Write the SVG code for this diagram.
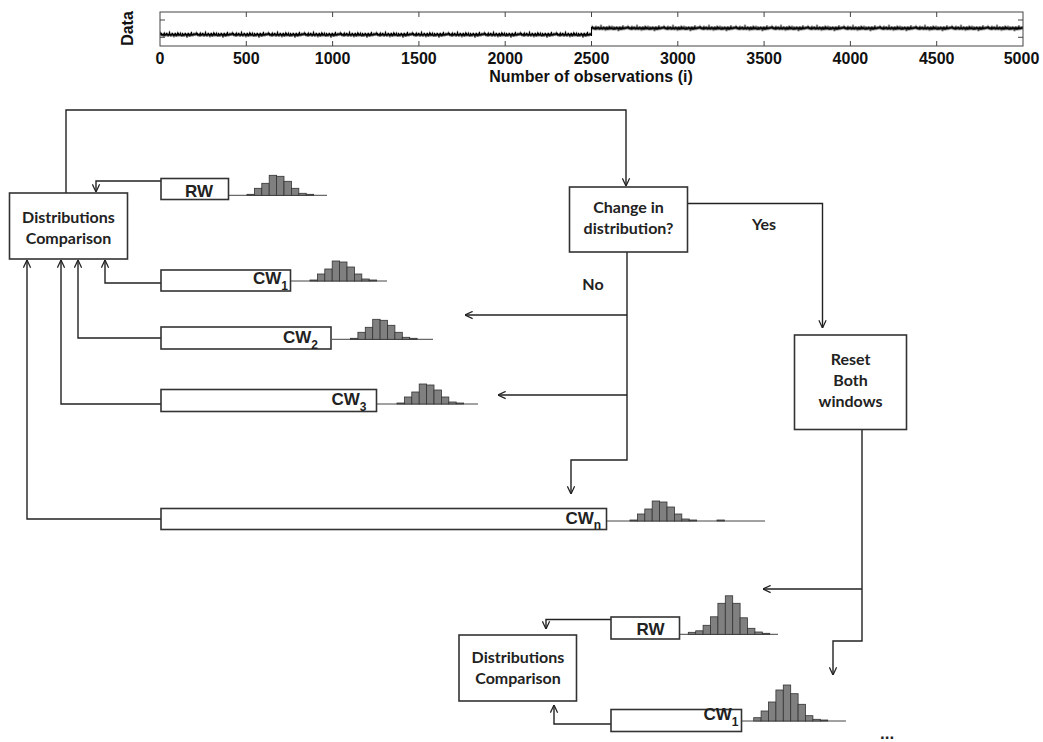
<svg xmlns="http://www.w3.org/2000/svg" xmlns:xlink="http://www.w3.org/1999/xlink" width="1043" height="742" viewBox="0 0 1043 742">
  <style>
    .box { fill: #fff; stroke: #333; stroke-width: 1.6; }
    .lbl { font-family: Lato, "Open Sans", "Liberation Sans", sans-serif; font-weight: 700; font-size: 16px; fill: #222; text-anchor: middle; }
    .win { font-family: "Liberation Sans", Arial, sans-serif; font-weight: 700; font-size: 17px; fill: #222; }
    .sub { font-size: 12px; }
    .axis { font-family: "Liberation Sans", Arial, sans-serif; font-weight: 700; font-size: 16px; fill: #111; text-anchor: middle; }
    .frame { fill: none; stroke: #444; stroke-width: 1; }
    .wire { fill: none; stroke: #222; stroke-width: 1.4; }
    .arrow { marker-end: url(#ah); }
    .bar { fill: #808080; stroke: #333; stroke-width: 0.8; }
    .base { stroke: #444; stroke-width: 1; fill: none; }
    .sig { fill: none; stroke: #000; stroke-width: 1.1; }
  </style>
  <defs>
    <marker id="ah" viewBox="0 0 10 10" refX="9.5" refY="5" markerUnits="userSpaceOnUse" markerWidth="9" markerHeight="9" orient="auto">
      <path d="M1,1 L9.5,5 L1,9" fill="none" stroke="#222" stroke-width="1.4"/>
    </marker>
    <!-- one tile of the noisy observation trace -->
    <path id="noise" class="sig" d="M0,7 L0.5,5.5 1,8 1.5,5 2,8.5 2.5,6 3,8 3.5,5.5 4,9 4.5,4.5 5,8 5.5,6 6,8.5 6.5,5 7,7.5 7.5,5.5 8,9 8.5,6 9,8 9.5,3.5 10,8 10.5,6 11,9 11.5,5.5 12,7.5 12.5,5 13,8.5 13.5,6 14,9.5 14.5,5.5 15,8 15.5,5 16,9 16.5,6 17,7.5 17.5,5.5 18,7 18.5,5 19,8.5 19.5,6 20,8 20.5,4.5 21,8.5 21.5,6.5 22,9 22.5,5 23,8 23.5,6 24,9 24.5,5.5 25,7.5 25.5,5 26,8.5 26.5,6 27,10 27.5,5.5 28,8 28.5,5 29,9 29.5,6 30,7.5 30.5,5.5 31,8.5 31.5,4 32,8 32.5,6 33,8.5 33.5,5.5 34,7.5 34.5,5.5 35,8 35.5,6 36,7"/>
    <pattern id="traceA" patternUnits="userSpaceOnUse" x="160" y="27.7" width="36" height="14">
      <use href="#noise"/>
    </pattern>
    <pattern id="traceB" patternUnits="userSpaceOnUse" x="591.5" y="21.3" width="36" height="14">
      <use href="#noise"/>
    </pattern>
    <!-- small histogram, baseline at y=0 -->
    <g id="hist-s">
      <rect class="bar" x="0" y="-1" width="7.4" height="1"/>
      <rect class="bar" x="7.4" y="-7" width="7.4" height="7"/>
      <rect class="bar" x="14.8" y="-12" width="7.4" height="12"/>
      <rect class="bar" x="22.2" y="-20" width="7.4" height="20"/>
      <rect class="bar" x="29.6" y="-19" width="7.4" height="19"/>
      <rect class="bar" x="37" y="-14" width="7.4" height="14"/>
      <rect class="bar" x="44.4" y="-7" width="7.4" height="7"/>
      <rect class="bar" x="51.8" y="-2" width="7.4" height="2"/>
      <rect class="bar" x="59.2" y="-1" width="7.4" height="1"/>
    </g>
  </defs>

  <rect width="1043" height="742" fill="#fff"/>

  <!-- observation trace plot -->
  <g id="data-plot">
    <rect x="160" y="27.7" width="431.5" height="14" fill="url(#traceA)"/>
    <rect x="591.5" y="21.3" width="431.5" height="14" fill="url(#traceB)"/>
    <path class="sig" d="M591.5,36 V27"/>
    <rect class="frame" x="160" y="12" width="863" height="34"/>
    <path class="frame" d="M246.3,12v5M332.6,12v5M418.9,12v5M505.2,12v5M591.5,12v5M677.8,12v5M764.1,12v5M850.4,12v5M936.7,12v5
      M246.3,46v-5M332.6,46v-5M418.9,46v-5M505.2,46v-5M591.5,46v-5M677.8,46v-5M764.1,46v-5M850.4,46v-5M936.7,46v-5
      M1023,20h-5M1023,37.3h-5M160,20h5M160,37.3h5"/>
    <text class="axis" transform="translate(133,28.5) rotate(-90)" font-size="15px">Data</text>
    <text class="axis" x="160" y="64">0</text>
    <text class="axis" x="246.3" y="64">500</text>
    <text class="axis" x="332.6" y="64">1000</text>
    <text class="axis" x="418.9" y="64">1500</text>
    <text class="axis" x="505.2" y="64">2000</text>
    <text class="axis" x="591.5" y="64">2500</text>
    <text class="axis" x="677.8" y="64">3000</text>
    <text class="axis" x="764.1" y="64">3500</text>
    <text class="axis" x="850.4" y="64">4000</text>
    <text class="axis" x="936.7" y="64">4500</text>
    <text class="axis" x="1021.5" y="64">5000</text>
    <text class="axis" x="591" y="82">Number of observations (i)</text>
  </g>

  <!-- connectors -->
  <g id="connectors">
    <path class="wire arrow" d="M66,193 V110 H626 V186"/>
    <path class="wire arrow" d="M161,181 H96 V192"/>
    <path class="wire arrow" d="M161,283 H105 V260"/>
    <path class="wire arrow" d="M161,338 H78 V260"/>
    <path class="wire arrow" d="M161,404 H61 V260"/>
    <path class="wire arrow" d="M161,519 H27 V260"/>
    <path class="wire arrow" d="M627,252 V460 H571 V494"/>
    <path class="wire arrow" d="M627,315 H465"/>
    <path class="wire arrow" d="M627,395 H498"/>
    <path class="wire arrow" d="M688,203.5 H822.5 V328"/>
    <path class="wire arrow" d="M862,430 V641 H833 V675"/>
    <path class="wire arrow" d="M862,589 H763"/>
    <path class="wire arrow" d="M611,619.5 H546 V629"/>
    <path class="wire arrow" d="M611,724 H554 V705"/>
  </g>

  <!-- decision labels -->
  <g id="branch-labels">
    <text class="lbl" x="764" y="230">Yes</text>
    <text class="lbl" x="593" y="290">No</text>
  </g>

  <g id="dc-top">
    <rect class="box" x="9.5" y="193" width="118" height="66"/>
    <text class="lbl" x="68.5" y="223">Distributions</text>
    <text class="lbl" x="68.5" y="244">Comparison</text>
  </g>

  <g id="rw-top">
    <rect class="box" x="161" y="178.5" width="67.5" height="21"/>
    <text class="win" x="185" y="197">RW</text>
    <path class="base" d="M229,195.3 H327"/>
    <use href="#hist-s" x="247" y="195.3"/>
  </g>

  <g id="cw1-top">
    <rect class="box" x="161" y="270" width="129.5" height="21"/>
    <text class="win" x="253" y="284">CW<tspan class="sub" dy="6">1</tspan></text>
    <path class="base" d="M291,281 H387"/>
    <use href="#hist-s" x="310" y="281"/>
  </g>

  <g id="cw2">
    <rect class="box" x="161" y="327" width="170" height="22"/>
    <text class="win" x="283" y="342.5">CW<tspan class="sub" dy="6">2</tspan></text>
    <path class="base" d="M332,339.3 H433"/>
    <use href="#hist-s" x="350.5" y="339.3"/>
  </g>

  <g id="cw3">
    <rect class="box" x="161" y="389.5" width="215.5" height="22"/>
    <text class="win" x="331.5" y="405">CW<tspan class="sub" dy="6">3</tspan></text>
    <path class="base" d="M377,404 H478"/>
    <use href="#hist-s" x="397" y="404"/>
  </g>

  <g id="cwn">
    <rect class="box" x="161" y="508.5" width="445.5" height="21"/>
    <text class="win" x="565.5" y="523.5">CW<tspan class="sub" dy="5.5">n</tspan></text>
    <path class="base" d="M607,521 H765"/>
    <use href="#hist-s" x="630" y="521"/>
    <rect class="bar" x="717" y="520" width="7.4" height="1"/>
  </g>

  <g id="change">
    <rect class="box" x="569.5" y="187" width="118" height="65"/>
    <text class="lbl" x="628.5" y="213">Change in</text>
    <text class="lbl" x="628.5" y="233.5">distribution?</text>
  </g>

  <g id="reset">
    <rect class="box" x="794.5" y="335" width="112" height="94.5"/>
    <text class="lbl" x="850.5" y="365">Reset</text>
    <text class="lbl" x="850.5" y="386">Both</text>
    <text class="lbl" x="850.5" y="407">windows</text>
  </g>

  <g id="dc-bottom">
    <rect class="box" x="459" y="635" width="117.5" height="66"/>
    <text class="lbl" x="518" y="662.5">Distributions</text>
    <text class="lbl" x="518" y="683.5">Comparison</text>
  </g>

  <g id="rw-bottom">
    <rect class="box" x="611" y="617" width="68.5" height="22"/>
    <text class="win" x="636.5" y="635">RW</text>
    <path class="base" d="M680,634.3 H778"/>
    <rect class="bar" x="688.3" y="632.3" width="7.4" height="2"/>
    <rect class="bar" x="695.7" y="630.8" width="7.4" height="3.5"/>
    <rect class="bar" x="703.1" y="625.3" width="7.4" height="9"/>
    <rect class="bar" x="710.5" y="616.8" width="7.4" height="17.5"/>
    <rect class="bar" x="717.9" y="603.3" width="7.4" height="31"/>
    <rect class="bar" x="725.3" y="595.8" width="7.4" height="38.5"/>
    <rect class="bar" x="732.7" y="603.3" width="7.4" height="31"/>
    <rect class="bar" x="740.1" y="617.8" width="7.4" height="16.5"/>
    <rect class="bar" x="747.5" y="628.3" width="7.4" height="6"/>
    <rect class="bar" x="754.9" y="632" width="7.4" height="2.3"/>
    <rect class="bar" x="762.3" y="633.3" width="7.4" height="1"/>
  </g>

  <g id="cw1-bottom">
    <rect class="box" x="611" y="709.5" width="130.5" height="22"/>
    <text class="win" x="703.5" y="719.5">CW<tspan class="sub" dy="6">1</tspan></text>
    <path class="base" d="M742,721 H846"/>
    <rect class="bar" x="753.7" y="717.7" width="7.4" height="3.3"/>
    <rect class="bar" x="761.1" y="711" width="7.4" height="10"/>
    <rect class="bar" x="768.5" y="702" width="7.4" height="19"/>
    <rect class="bar" x="775.9" y="690" width="7.4" height="31"/>
    <rect class="bar" x="783.3" y="685" width="7.4" height="36"/>
    <rect class="bar" x="790.7" y="693.7" width="7.4" height="27.3"/>
    <rect class="bar" x="798.1" y="704.3" width="7.4" height="16.7"/>
    <rect class="bar" x="805.5" y="715.7" width="7.4" height="5.3"/>
    <rect class="bar" x="812.9" y="719.3" width="7.4" height="1.7"/>
    <rect class="bar" x="820.3" y="720" width="7.4" height="1"/>
  </g>

  <g id="continuation">
    <text class="win" x="880" y="739" font-size="26px">...</text>
  </g>
</svg>
